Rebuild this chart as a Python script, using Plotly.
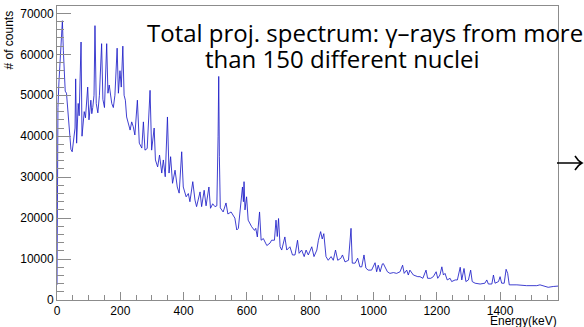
import plotly.graph_objects as go

# Energy (keV) of read-off vertices of the projected spectrum
energy = [0, 1, 3, 6, 10, 14, 17, 20, 23, 26, 30, 34, 38, 44, 48, 53, 57, 59, 62, 67,
          70, 76, 79, 86, 90, 97, 101, 107, 110, 113, 117, 120, 124, 129, 134, 141, 145, 150, 157, 161,
          165, 173, 178, 183, 190, 194, 199, 203, 208, 212, 216, 220, 226, 231, 236, 241, 246, 254, 260, 268,
          273, 278, 285, 294, 299, 307, 311, 318, 324, 331, 336, 342, 349, 354, 359, 365, 373, 380, 386, 394,
          399, 408, 415, 420, 429, 436, 441, 452, 457, 465, 471, 480, 485, 492, 499, 505, 509, 511, 513, 516,
          525, 534, 540, 550, 562, 568, 573, 578, 586, 589, 591, 594, 599, 604, 615, 624, 628, 633, 640, 645,
          652, 659, 663, 673, 678, 687, 692, 696, 700, 705, 710, 720, 726, 736, 744, 752, 760, 765, 773, 781,
          787, 794, 805, 812, 821, 826, 833, 838, 843, 850, 857, 866, 873, 880, 887, 897, 902, 910, 921, 929,
          933, 942, 950, 957, 963, 970, 976, 983, 994, 1005, 1010, 1015, 1021, 1028, 1031, 1044, 1052, 1063, 1073, 1084,
          1092, 1097, 1105, 1110, 1115, 1126, 1140, 1147, 1156, 1166, 1171, 1181, 1189, 1198, 1203, 1210, 1216, 1221, 1226, 1233,
          1242, 1247, 1258, 1265, 1274, 1279, 1286, 1292, 1300, 1307, 1312, 1321, 1337, 1352, 1358, 1363, 1374, 1379, 1384, 1395,
          1400, 1405, 1413, 1419, 1424, 1429, 1453, 1484, 1516, 1526, 1552, 1568, 1583]

# Number of counts at those energies
counts = [3700, 30000, 47000, 53000, 59000, 66000, 68200, 61000, 55000, 51000, 50500, 46400, 41500, 36800, 36200, 39000, 42000, 54000, 38300, 48000,
          45000, 63000, 40000, 46000, 44500, 52000, 44000, 48800, 45500, 47000, 50000, 67000, 48000, 45700, 50000, 62600, 49000, 47000, 62600, 50500,
          52500, 48000, 47000, 50000, 61500, 50500, 56000, 52000, 62000, 50000, 48800, 44700, 42700, 41500, 43500, 42300, 40300, 48800, 38300, 37100,
          43500, 36600, 37000, 51200, 36600, 42000, 34200, 32500, 35400, 31000, 34200, 30100, 44700, 31000, 35000, 28500, 31700, 27600, 26100, 36200,
          27600, 25200, 26000, 24000, 28900, 24400, 22800, 26400, 22800, 26800, 23000, 27600, 22400, 23500, 22800, 23000, 40000, 54600, 35000, 22500,
          21500, 23700, 21000, 21500, 20000, 17100, 17500, 21000, 27600, 24000, 28900, 22000, 25200, 19500, 17900, 17000, 17500, 15400, 21500, 14600,
          15000, 13900, 13300, 13900, 14600, 14600, 19500, 15500, 19900, 13000, 12200, 15400, 12200, 13000, 11000, 11000, 14600, 11400, 12200, 10600,
          12200, 11000, 13000, 10600, 12200, 14600, 16700, 14900, 16200, 10600, 9700, 10600, 9700, 12200, 9700, 10200, 11000, 9300, 9700, 17500,
          9000, 9000, 10200, 8100, 8100, 11000, 7800, 7300, 7300, 9100, 6900, 8500, 6900, 8800, 8900, 6900, 6500, 6700, 6500, 6900,
          8500, 6500, 7300, 6100, 7300, 6100, 5700, 5700, 5300, 7300, 5300, 5300, 5700, 6900, 5300, 6100, 8100, 6100, 6500, 4900,
          5300, 4500, 4900, 4900, 8000, 4900, 7700, 4500, 4900, 7300, 4500, 4100, 3900, 4100, 4900, 3900, 3900, 6100, 4100, 4500,
          5700, 4100, 4100, 7500, 6500, 3700, 3700, 3500, 3500, 3700, 3100, 3300, 3400]

x_ticks = [0, 200, 400, 600, 800, 1000, 1200, 1400]
y_ticks = [0, 10000, 20000, 30000, 40000, 50000, 60000, 70000]

W, H = 584, 327
L, R, T, B = 57, 26, 6, 27
pw, ph = W - L - R, H - T - B

def px(xp):
    return (xp - L) / pw

def py(yp):
    return (H - B - yp) / ph

fig = go.Figure()
fig.add_trace(go.Scatter(x=energy, y=counts, mode="lines",
                         line=dict(color="rgba(30,30,200,0.85)", width=1),
                         showlegend=False, hoverinfo="skip"))

axis_common = dict(showline=True, linecolor="#8c8c8c", linewidth=1, mirror=True,
                   ticks="inside", tickcolor="#8c8c8c", tickwidth=1,
                   showgrid=False, zeroline=False,
                   tickfont=dict(family="Liberation Sans, Arial, sans-serif", size=12, color="black"))

fig.update_xaxes(range=[0, 1583], tickvals=x_ticks, ticktext=[str(v) for v in x_ticks],
                 ticklen=8, ticklabelstandoff=0,
                 minor=dict(dtick=50, ticks="inside", ticklen=5, tickcolor="#8c8c8c"),
                 **axis_common)
fig.update_yaxes(range=[0, 71800], tickvals=y_ticks, ticktext=[str(v) for v in y_ticks],
                 ticklen=14, minor=dict(dtick=2000, ticks="inside", ticklen=7, tickcolor="#8c8c8c"),
                 **axis_common)

lab_font = dict(family="Liberation Sans, Arial, sans-serif", size=12, color="black")
title_font = dict(family="Open Sans, sans-serif", size=24, color="black")

fig.update_layout(
    width=W, height=H,
    margin=dict(l=L, r=R, t=T, b=B),
    paper_bgcolor="white", plot_bgcolor="white",
    annotations=[
        dict(text="# of counts", textangle=-90, xref="paper", yref="paper",
             x=px(8), y=py(9), xanchor="center", yanchor="top", showarrow=False, font=lab_font),
        dict(text="Energy(keV)", xref="paper", yref="paper",
             x=px(558), y=py(328.5), xanchor="right", yanchor="bottom", showarrow=False, font=lab_font,
             borderpad=0),
        dict(text="Total proj. spectrum: γ–rays from more", xref="paper", yref="paper",
             x=px(146), y=py(32.5), xanchor="left", yanchor="middle", showarrow=False, font=title_font,
             borderpad=0),
        dict(text="than 150 different nuclei", xref="paper", yref="paper",
             x=px(204), y=py(58.5), xanchor="left", yanchor="middle", showarrow=False, font=title_font,
             borderpad=0),
    ],
    shapes=[
        dict(type="path", xref="paper", yref="paper",
             path=f"M {px(557)},{py(163)} L {px(582)},{py(163)} M {px(575)},{py(156)} Q {px(578)},{py(161)} {px(582)},{py(163)} Q {px(578)},{py(165)} {px(575)},{py(170)}",
             line=dict(color="black", width=1.5)),
    ],
)

fig.write_html("out.html")
